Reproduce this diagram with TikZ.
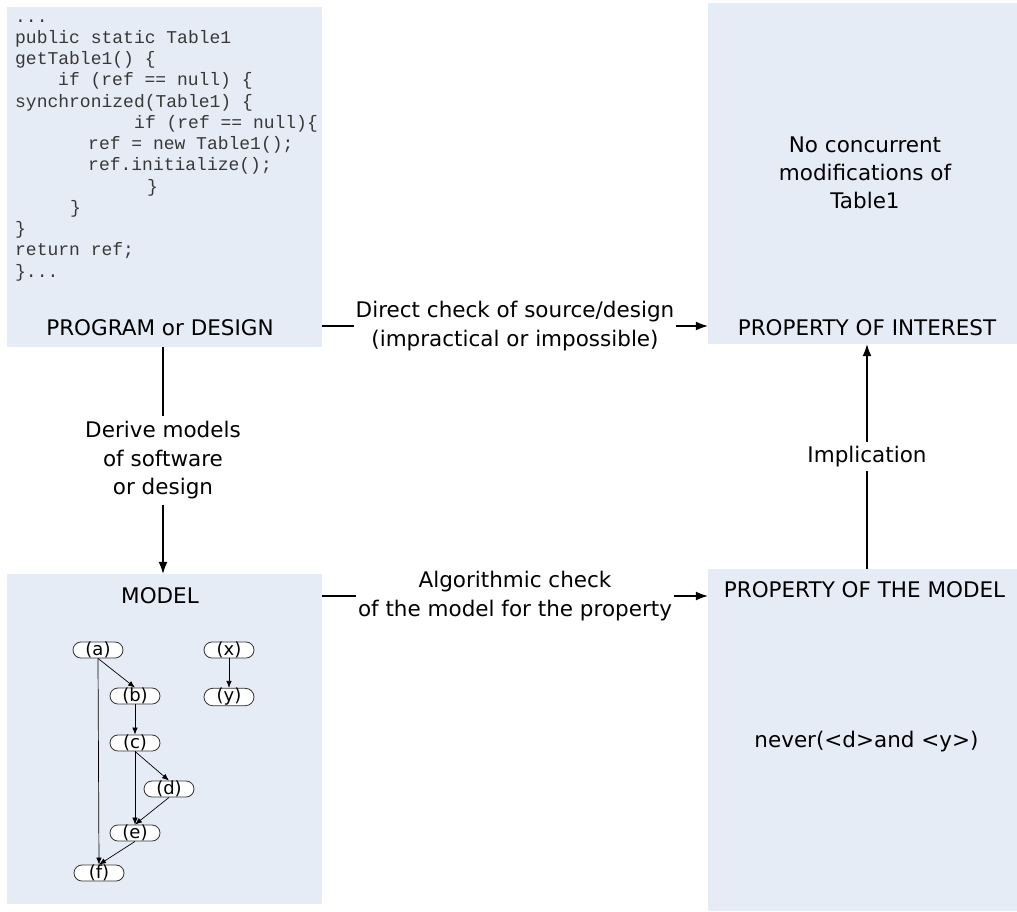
\documentclass[tikz,border=0pt]{standalone}
\usepackage{fontspec}
\setmainfont{DejaVu Sans}
\newfontfamily\codefont{Liberation Mono}
\usetikzlibrary{arrows.meta,shapes.misc}
\definecolor{boxblue}{RGB}{230,236,246}
\begin{document}
\begin{tikzpicture}[x=1pt,y=-1pt,
  bluebox/.style={fill=boxblue,draw=none,inner sep=0pt},
  lbl/.style={font=\fontsize{21.5}{28}\selectfont,inner sep=0pt,align=center},
  arrlbl/.style={font=\fontsize{21.5}{28.5}\selectfont,fill=white,inner xsep=2pt,inner ysep=4pt,align=center},
  code/.style={font=\fontsize{18}{21}\codefont,text=black!78,anchor=base west,inner sep=0pt},
  pill/.style={rounded rectangle,draw=black!80,fill=white,line width=0.8pt,minimum width=50pt,minimum height=16pt,inner sep=0pt,font=\fontsize{18}{16}\selectfont},
  bigarr/.style={line width=1.1pt,-{Latex[length=12pt,width=9pt]}},
  smallarr/.style={line width=0.7pt,-{Latex[length=7pt,width=5.5pt]}}]
\useasboundingbox (0,0) rectangle (1017,911);
% boxes
\node[bluebox,minimum width=315pt,minimum height=340pt] (prog) at (164.5,177) {};
\node[bluebox,minimum width=309pt,minimum height=341pt] (poi) at (862.5,173.5) {};
\node[bluebox,minimum width=315pt,minimum height=330pt] (model) at (164.5,739) {};
\node[bluebox,minimum width=309pt,minimum height=342pt] (pom) at (862.5,740) {};
% code
\node[code] (c1) at (15,22) {...};
\node[code] (c2) at (15,43.25) {public static Table1};
\node[code] (c3) at (15,64.5) {getTable1() \{};
\node[code] (c4) at (58,85.75) {if (ref == null) \{};
\node[code] (c5) at (15,107) {synchronized(Table1) \{};
\node[code] (c6) at (134,128.25) {if (ref == null)\{};
\node[code] (c7) at (88,149.5) {ref = new Table1();};
\node[code] (c8) at (88,170.75) {ref.initialize();};
\node[code] (c9) at (147,192) {\}};
\node[code] (c10) at (70,213.25) {\}};
\node[code] (c11) at (15,234.5) {\}};
\node[code] (c12) at (15,255.75) {return ref;};
\node[code] (c13) at (15,277) {\}...};
% box labels
\node[lbl,anchor=base] (progl) at (160,335) {PROGRAM or DESIGN};
\node[lbl,anchor=base] (poil) at (867,335) {PROPERTY OF INTEREST};
\node[lbl,anchor=base] (modell) at (160,603) {MODEL};
\node[lbl,anchor=base] (poml) at (864.5,597) {PROPERTY OF THE MODEL};
\node[lbl] (poitext) at (865,173) {No concurrent\\modifications of\\Table1};
\node[lbl,anchor=base] (pomtext) at (866.5,747) {never(<d>and <y>)};
% connectors
\coordinate (ytop) at (0,326);
\coordinate (ybot) at (0,596);
\coordinate (xl) at (163,0);
\coordinate (xr) at (867,0);
\draw[bigarr] (prog.east |- ytop) -- node[arrlbl] {Direct check of source/design\\(impractical or impossible)} (poi.west |- ytop);
\draw[bigarr] (model.east |- ybot) -- node[arrlbl] {Algorithmic check\\of the model for the property} (pom.west |- ybot);
\draw[bigarr] (prog.south -| xl) -- node[arrlbl,inner ysep=6pt] {Derive models\\of software\\or design} (model.north -| xl);
\draw[bigarr] (pom.north -| xr) -- node[arrlbl] {Implication} (poi.south -| xr);
% model graph
\node[pill] (a) at (98,650) {(a)};
\node[pill] (b) at (135,696) {(b)};
\node[pill] (c) at (135,743) {(c)};
\node[pill] (d) at (169,789) {(d)};
\node[pill] (e) at (135,833) {(e)};
\node[pill] (f) at (99,873) {(f)};
\node[pill] (x) at (229,650) {(x)};
\node[pill] (y) at (229,697) {(y)};
\draw[smallarr] (a.south) -- (b.north);
\draw[smallarr] (a.south) -- (f.north);
\draw[smallarr] (b.south) -- (c.north);
\draw[smallarr] (c.south) -- (d.north);
\draw[smallarr] (c.south) -- (e.north);
\draw[smallarr] (d.south) -- (e.north);
\draw[smallarr] (e.south) -- (f.north);
\draw[smallarr] (x.south) -- (y.north);
\end{tikzpicture}
\end{document}
